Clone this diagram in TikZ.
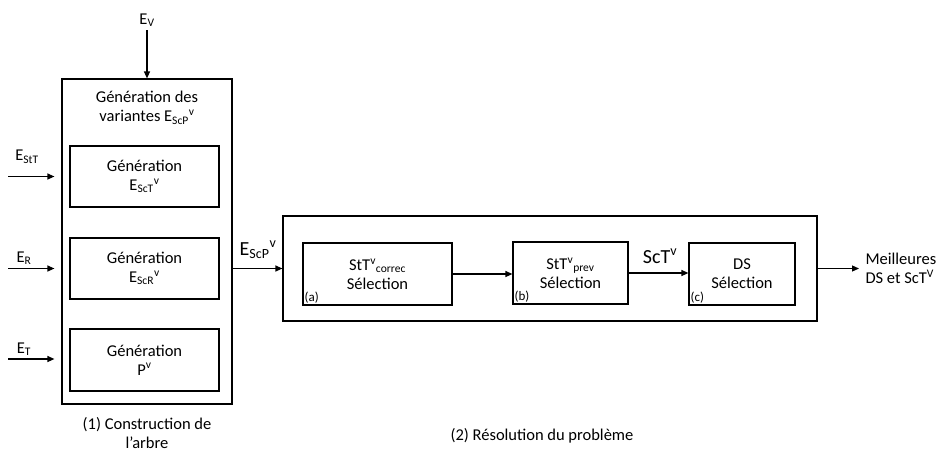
\documentclass[tikz,border=0pt]{standalone}
\usepackage{fontspec}
\setmainfont{Carlito}
\usetikzlibrary{arrows.meta,positioning}

\begin{document}
\begin{tikzpicture}[x = 1pt,y = -1pt,
        every node/.style = {font = \fontsize{16.5}{19}\selectfont,align = center},
        bloc/.style = {draw = black,line width = 1.2pt,minimum height = 62pt,inner sep = 0pt},
        fleche/.style = {line width = 1.2pt,-{Triangle[length = 7pt,width = 6pt]}},
        petit/.style = {font = \fontsize{13}{15}\selectfont,inner sep = 2pt,anchor = south west},
        grand/.style = {font = \fontsize{20}{24}\selectfont}]
        \useasboundingbox (0,0) rectangle (943,451);
        \node [bloc,minimum width = 170pt,minimum height = 325pt] (arbre) at (147,241.5) {};
        \node (titre) at (147,108) {Génération des\\variantes E\textsubscript{ScP}\textsuperscript{v}};
        \node [bloc,minimum width = 149pt,minimum height = 61pt] (genT) at (144.5,176.5) {Génération\\E\textsubscript{ScT}\textsuperscript{v}};
        \node [bloc,minimum width = 149pt,minimum height = 61pt] (genR) at (144.5,268.5) {Génération\\E\textsubscript{ScR}\textsuperscript{v}};
        \node [bloc,minimum width = 149pt,minimum height = 62pt] (genP) at (144.5,360) {Génération\\P\textsuperscript{v}};
        \node (eV) at (147,20) {E\textsubscript{V}};
        \draw [fleche] (eV) -- (arbre.north);
        \node (eStT) at (27,157) {E\textsubscript{StT}};
        \node (eR) at (24,258) {E\textsubscript{R}};
        \node (eT) at (24,349) {E\textsubscript{T}};
        \coordinate (inT) at (8,176.5);
        \coordinate (inR) at (8,268.5);
        \coordinate (inP) at (8,359);
        \draw [fleche,shorten >= 7pt] (inT) -- (inT -| arbre.west);
        \draw [fleche,shorten >= 7pt] (inR) -- (inR -| arbre.west);
        \draw [fleche,shorten >= 7pt] (inP) -- (inP -| arbre.west);
        \node (cap1) at (147,433) {(1) Construction de\\l’arbre};

        \node [bloc,minimum width = 534pt,minimum height = 105pt] (resol) at (550,268.5) {};
        \draw [fleche] (resol.west -| arbre.east) -- (resol.west);
        \node [grand] (eScP) at (258,250) {E\textsubscript{ScP}\textsuperscript{v}};
        \node [bloc,minimum width = 149pt] (selA) at (377.5,274) {StT\textsuperscript{v}\textsubscript{correc}\\Sélection};
        \node [bloc,minimum width = 115pt] (selB) at (570.5,273) {StT\textsuperscript{v}\textsubscript{prev}\\Sélection};
        \node [bloc,minimum width = 106pt] (selC) at (742,274) {DS\\Sélection};
        \node [petit] at (selA.south west) {(a)};
        \node [petit] at (selB.south west) {(b)};
        \node [petit] at (selC.south west) {(c)};
        \draw [fleche] (selA.east) -- (selA.east -| selB.west);
        \draw [fleche] (selB.east) -- (selB.east -| selC.west);
        \node [grand] (scT) at (660,256) {ScT\textsuperscript{v}};
        \coordinate (sortie) at (859,268.5);
        \draw [fleche] (resol.east) -- (sortie);
        \node [anchor = west,align = left,right = 3pt of sortie] (meilleur) {Meilleures\\DS et ScT\textsuperscript{V}};
        \node (cap2) at (542,436) {(2) Résolution du problème};
    \end{tikzpicture}
\end{document}
